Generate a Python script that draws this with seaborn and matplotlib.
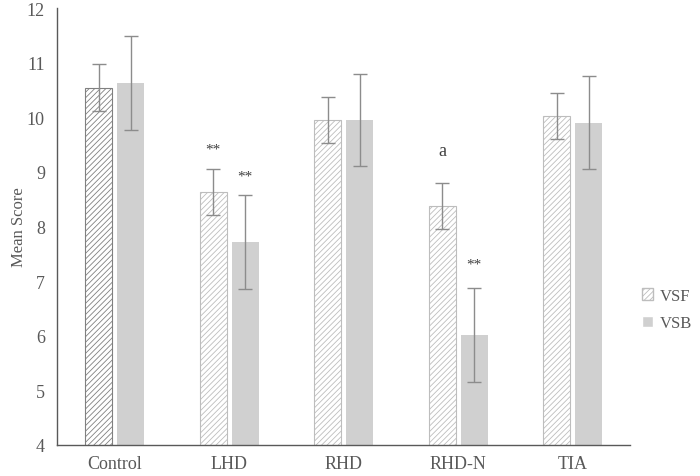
import numpy as np
import pandas as pd
import matplotlib
matplotlib.use('Agg')
import matplotlib.pyplot as plt
import seaborn as sns

groups = ['Control', 'LHD', 'RHD', 'RHD-N', 'TIA']
vsf_mean = [10.54, 8.63, 9.95, 8.37, 10.03]
vsf_err = [0.43, 0.42, 0.42, 0.42, 0.42]
vsb_mean = [10.63, 7.72, 9.95, 6.01, 9.90]
vsb_err = [0.86, 0.86, 0.85, 0.86, 0.85]
# significance marks: (group, series, label, y)
marks = [('LHD', 'VSF', '**', 9.42), ('LHD', 'VSB', '**', 8.93),
         ('RHD-N', 'VSF', 'a', 9.40), ('RHD-N', 'VSB', '**', 7.32)]

sns.set_style('white')
plt.rcParams['font.family'] = ['Liberation Serif', 'DejaVu Serif']
plt.rcParams['hatch.linewidth'] = 0.6

grey = '#595959'
df = pd.DataFrame({
    'group': groups * 2,
    'series': ['VSF'] * len(groups) + ['VSB'] * len(groups),
    'score': vsf_mean + vsb_mean,
})

fig = plt.figure(figsize=(7, 4.77), dpi=100)
ax = fig.add_axes([0.082, 0.065, 0.818, 0.916])
sns.barplot(data=df, x='group', y='score', hue='series', order=groups,
            hue_order=['VSF', 'VSB'], palette=['white', '#d0d0d0'],
            width=0.56, gap=0.16, errorbar=None, ax=ax, legend=True)

# style bars and add the error bars
n = len(groups)
bars = ax.patches[:2 * n]
centers = {}
for i, b in enumerate(bars):
    s = 'VSF' if i < n else 'VSB'
    g = groups[i % n]
    cx = b.get_x() + b.get_width() / 2
    centers[(g, s)] = cx
    if s == 'VSF':
        b.set_hatch('//////')
        b.set_edgecolor('#808080' if g == 'Control' else '#bdbdbd')
        b.set_linewidth(0.8)
    else:
        b.set_edgecolor('none')

for s, means, errs in [('VSF', vsf_mean, vsf_err), ('VSB', vsb_mean, vsb_err)]:
    xs = [centers[(g, s)] for g in groups]
    ax.errorbar(xs, means, yerr=errs, fmt='none', ecolor='#8c8c8c',
                elinewidth=1, capsize=5, capthick=1)

for g, s, lab, y in marks:
    ax.text(centers[(g, s)], y, lab, ha='center', va='center',
            fontsize=13 if lab == 'a' else 11, color='#404040')

ax.set_ylim(4, 12)
ax.set_yticks(range(4, 13))
ax.set_xlim(-0.5, n - 0.5)
ax.set_xlabel('')
ax.set_ylabel('Mean Score', fontsize=12, color=grey, labelpad=0)
ax.tick_params(axis='y', labelsize=13, colors=grey, length=0, pad=9)
ax.tick_params(axis='x', labelsize=13, colors=grey, length=0, pad=7)
for side in ['top', 'right']:
    ax.spines[side].set_visible(False)
for side in ['left', 'bottom']:
    ax.spines[side].set_color(grey)
    ax.spines[side].set_linewidth(1)

handles, labels = ax.get_legend_handles_labels()
handles[0].set_hatch('//////')
handles[0].set_edgecolor('#bdbdbd')
ax.legend(handles, labels, loc='center left', bbox_to_anchor=(1.0, 0.31),
          frameon=False, fontsize=12, labelcolor=grey, handlelength=0.7,
          handleheight=0.7, handletextpad=0.4, labelspacing=0.7,
          borderaxespad=0.3)

fig.savefig('out.png', dpi=100)
